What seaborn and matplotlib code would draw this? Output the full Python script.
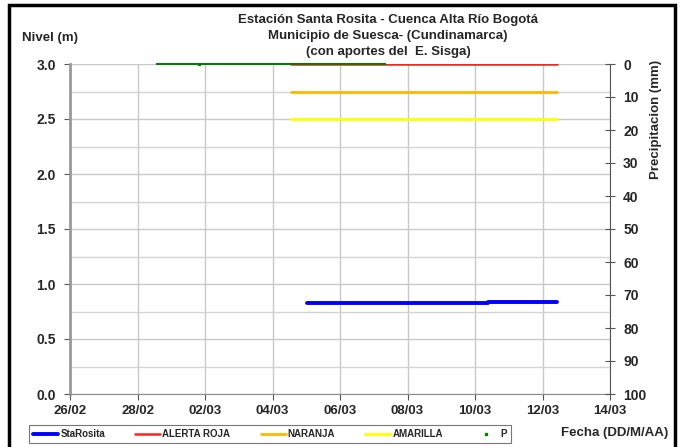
import numpy as np
import pandas as pd
import matplotlib
matplotlib.use('Agg')
import matplotlib.pyplot as plt
import matplotlib.dates as mdates
from matplotlib.patches import Rectangle
from matplotlib.lines import Line2D
import seaborn as sns

# --- Données ---
# Nivel StaRosita (m), tracé en escalier
nivel_fechas = pd.to_datetime(['2023-03-05 00:30', '2023-03-10 09:00', '2023-03-12 10:00'])
nivel_m = [0.83, 0.84, 0.84]

# Seuils d'alerte (m)
alerta_fechas = pd.to_datetime(['2023-03-04 13:00', '2023-03-12 10:00'])
alerta_roja = [3.0, 3.0]
alerta_naranja = [2.75, 2.75]
alerta_amarilla = [2.5, 2.5]

# Précipitation horaire (mm) : toutes nulles sauf une petite valeur le 02/03
p_fechas = pd.date_range('2023-02-28 14:00', '2023-03-07 08:00', freq='h')
p_mm = np.zeros(len(p_fechas))
p_mm[list(p_fechas).index(pd.Timestamp('2023-03-01 20:00'))] = 0.3

x_ticks = pd.date_range('2023-02-26', '2023-03-14', freq='2D')

sns.set_style('white')
plt.rcParams['font.family'] = ['Liberation Sans', 'DejaVu Sans']
plt.rcParams['font.weight'] = 'bold'

fig = plt.figure(figsize=(6.84, 4.47), dpi=100)
ax = fig.add_axes([70 / 684, 1 - 394 / 447, 540 / 684, 330 / 447])
ax2 = ax.twinx()

# Grille
ax.set_yticks(np.arange(0, 3.01, 0.25), minor=True)
ax.grid(True, which='minor', axis='y', color='#d4d4d4', lw=1)
ax.grid(True, which='major', axis='both', color='#c8c8c8', lw=1)
ax.set_axisbelow(True)

df_alerta = pd.DataFrame({'fecha': alerta_fechas, 'roja': alerta_roja,
                          'naranja': alerta_naranja, 'amarilla': alerta_amarilla})
sns.lineplot(data=df_alerta, x='fecha', y='roja', color='#ff2020', lw=1.8, ax=ax)
sns.lineplot(data=df_alerta, x='fecha', y='naranja', color='#ffb800', lw=2, ax=ax)
sns.lineplot(data=df_alerta, x='fecha', y='amarilla', color='#ffff00', lw=2, ax=ax)

df_nivel = pd.DataFrame({'fecha': nivel_fechas, 'nivel': nivel_m})
sns.lineplot(data=df_nivel, x='fecha', y='nivel', color='#0000ff', lw=2.8,
             drawstyle='steps-post', ax=ax)

df_p = pd.DataFrame({'fecha': p_fechas, 'p': p_mm})
sns.scatterplot(data=df_p, x='fecha', y='p', color='#008000', marker='s', s=4.5,
                edgecolor='none', ax=ax2, clip_on=False, zorder=5)

# Axes
ax.set_xlim(pd.Timestamp('2023-02-26'), pd.Timestamp('2023-03-14'))
ax.set_xticks(x_ticks)
ax.xaxis.set_major_formatter(mdates.DateFormatter('%d/%m'))
ax.set_ylim(0, 3.0)
ax.set_yticks(np.arange(0, 3.01, 0.5))
ax.yaxis.set_major_formatter(matplotlib.ticker.FormatStrFormatter('%.1f'))
ax2.set_ylim(100, 0)
ax2.set_yticks(np.arange(0, 101, 10))
ax.set_xlabel('')
ax.set_ylabel('')
ax2.set_xlabel('')
ax2.set_ylabel('')

for a in (ax, ax2):
    a.spines['top'].set_visible(False)
ax.spines['left'].set_color('#999999')
ax.spines['left'].set_linewidth(2)
ax.spines['bottom'].set_color('#8c8c8c')
ax.spines['right'].set_visible(False)
ax2.spines['left'].set_visible(False)
ax2.spines['bottom'].set_visible(False)
ax2.spines['right'].set_color('#555555')

ax.tick_params(axis='y', which='major', left=True, length=4, color='#555555',
               labelsize=10, pad=6)
ax.tick_params(axis='y', which='minor', left=False)
ax.tick_params(axis='x', bottom=True, length=4, color='#555555', labelsize=9.5, pad=4)
ax2.tick_params(axis='y', right=True, direction='inout', length=7, color='#555555',
                labelsize=10, pad=6)
for lab in ax.get_xticklabels() + ax.get_yticklabels() + ax2.get_yticklabels():
    lab.set_fontweight('bold')

# Textes
fig.text(388 / 684, 1 - 20 / 447, 'Estación Santa Rosita - Cuenca Alta Río Bogotá',
         ha='center', va='center', fontsize=9.5, fontweight='bold')
fig.text(388 / 684, 1 - 36 / 447, 'Municipio de Suesca- (Cundinamarca)',
         ha='center', va='center', fontsize=9.5, fontweight='bold')
fig.text(388 / 684, 1 - 52 / 447, '(con aportes del  E. Sisga)',
         ha='center', va='center', fontsize=9.5, fontweight='bold')
fig.text(22 / 684, 1 - 38 / 447, 'Nivel (m)', ha='left', va='center',
         fontsize=9.5, fontweight='bold')
fig.text(656 / 684, 1 - 60 / 447, 'Precipitacion (mm)', ha='center', va='top',
         rotation=90, fontsize=9.5, fontweight='bold')
fig.text(668 / 684, 1 - 433 / 447, 'Fecha (DD/M/AA)', ha='right', va='center',
         fontsize=9.5, fontweight='bold')

# Légende
handles = [Line2D([], [], color='#0000ff', lw=2.8),
           Line2D([], [], color='#ff2020', lw=1.8),
           Line2D([], [], color='#ffb800', lw=2),
           Line2D([], [], color='#ffff00', lw=2),
           Line2D([], [], color='#008000', marker='s', ms=2, ls='none')]
labels = ['StaRosita', 'ALERTA ROJA', 'NARANJA', 'AMARILLA', 'P']
leg = fig.legend(handles, labels, loc='center', ncol=5,
                 bbox_to_anchor=(270 / 684, 1 - 434 / 447),
                 fontsize=7, frameon=True, fancybox=False, edgecolor='#555555',
                 handlelength=2.6, handletextpad=0.2, columnspacing=3.1,
                 borderpad=0.45)
leg.get_frame().set_linewidth(0.8)

# Cadre noir autour de la figure
fig.patches.append(Rectangle((9 / 684, -5 / 447), (675 - 9) / 684, 447 / 447,
                             transform=fig.transFigure,
                             fill=False, edgecolor='black', lw=2.5))

fig.savefig('out.png', dpi=100)
